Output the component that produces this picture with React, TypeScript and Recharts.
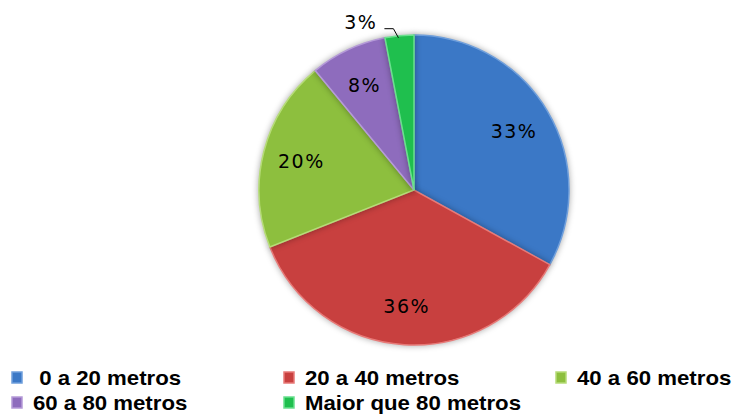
import { PieChart, Pie, Cell, Legend } from 'recharts';

const categories = [' 0 a 20 metros', '20 a 40 metros', '40 a 60 metros', '60 a 80 metros', 'Maior que 80 metros'];
const shares = [33, 36, 20, 8, 3];
const COLORS = ['#3b78c6', '#c8403f', '#8dbf3e', '#8e6cbd', '#1fbf4e'];
const EDGES = ['#6f9fdc', '#e87a78', '#b6dc78', '#b59ad8', '#6ae08e'];

const data = categories.map((name, i) => ({ name, value: shares[i] }));

const RAD = Math.PI / 180;

const renderLabel = (props: any) => {
  const { cx, cy, midAngle, outerRadius, value } = props;
  const cos = Math.cos(-midAngle * RAD);
  const sin = Math.sin(-midAngle * RAD);
  const style = { fontFamily: 'DejaVu Sans', fontSize: 19, letterSpacing: 1.5 };
  if (value < 5) {
    // small slice: label outside with a leader line
    const ex = cx + outerRadius * cos;
    const ey = cy + outerRadius * sin;
    return (
      <g>
        <polyline
          points={`${ex - 1},${ey + 2} ${ex - 6},${ey - 7} ${ex - 15},${ey - 7}`}
          fill="none"
          stroke="#000"
          strokeWidth={1}
        />
        <text x={ex - 22} y={ey - 7} textAnchor="end" fill="#000" style={style}>
          {`${value}%`}
        </text>
      </g>
    );
  }
  const r = outerRadius * 0.75;
  return (
    <text
      x={cx + r * cos}
      y={cy + r * sin}
      textAnchor="middle"
      dominantBaseline="central"
      fill="#000"
      style={style}
    >
      {`${value}%`}
    </text>
  );
};

const renderLegend = () => (
  <svg width={733} height={52}>
    {data.map((d, i) => {
      const col = i % 3;
      const row = Math.floor(i / 3);
      const x = 12 + col * 272;
      const y = row * 25;
      return (
        <g key={d.name}>
          <rect x={x} y={y + 10} width={10} height={11} fill={COLORS[i]} stroke={EDGES[i]} strokeWidth={1.5} />
          <g transform={`translate(${x + 21},${y + 23}) scale(1.14,1)`}>
            <text
              x={0}
              y={0}
              fill="#000"
              style={{ fontFamily: "'Liberation Sans', Arial", fontWeight: 'bold', fontSize: 19.5, whiteSpace: 'pre' }}
            >
              {d.name}
            </text>
          </g>
        </g>
      );
    })}
  </svg>
);

export default function App() {
  return (
    <div style={{ position: 'absolute', left: 0, top: 0, background: '#fff' }}>
      <PieChart width={733} height={414} margin={{ top: 0, right: 0, bottom: 0, left: 0 }}>
        <Pie
          data={data}
          dataKey="value"
          nameKey="name"
          cx={414}
          cy={190}
          outerRadius={155}
          startAngle={90}
          endAngle={-270}
          labelLine={false}
          label={renderLabel}
          isAnimationActive={false}
          style={{ filter: 'drop-shadow(0 0 3px rgba(0,0,0,0.35))' }}
        >
          {data.map((entry, index) => (
            <Cell key={`cell-${index}`} fill={COLORS[index]} stroke={EDGES[index]} strokeWidth={1.5} />
          ))}
        </Pie>
        <Legend content={renderLegend} wrapperStyle={{ left: 0, top: 362, width: 733 }} />
      </PieChart>
    </div>
  );
}
